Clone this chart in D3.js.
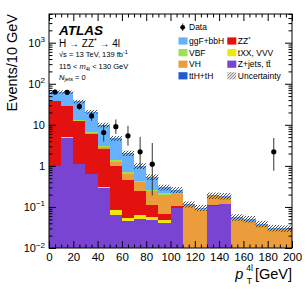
<!DOCTYPE html>
<html>
<head>
<meta charset="utf-8">
<script src="https://cdn.jsdelivr.net/npm/d3@7"></script>
<style>
  body { margin: 0; background: #fff; }
  svg { display: block; }
  text { font-family: "Liberation Sans", Arial, Helvetica, sans-serif; fill: #000; }
</style>
</head>
<body>
<div id="chart"></div>
<script>
// bins of pT(4l), 10 GeV wide
const binLow = [0, 10, 20, 30, 40, 50, 60, 70, 80, 90, 100, 110, 120, 130, 140, 150, 160, 170, 180, 190];

// expected events / 10 GeV per process
const zjets = [1.0, 4.9, 1.1, 0.63, 0.29, 0.064, 0.046, 0.05, 0.048, 0.04, 0.093, 0, 0, 0.107, 0.116, 0, 0, 0, 0, 0];
const txx   = [0.02, 0.03, 0.03, 0.02, 0.02, 0.021, 0.009, 0.013, 0.009, 0.008, 0, 0, 0, 0, 0, 0, 0, 0, 0, 0];
const zz    = [36, 24, 11.3, 5.4, 2.3, 0.915, 0.405, 0.182, 0.053, 0.021, 0.013, 0, 0, 0.006, 0, 0, 0, 0, 0, 0];
const vh    = [0.3, 0.3, 0.3, 0.2, 0.25, 0.25, 0.19, 0.155, 0.135, 0.131, 0.104, 0.103, 0.085, 0.067, 0.059, 0.05, 0.046, 0.035, 0.028, 0.027];
const tth   = [0.002, 0.002, 0.002, 0.001, 0.001, 0.001, 0.001, 0.001, 0, 0, 0, 0, 0, 0, 0, 0, 0, 0, 0, 0];
const vbf   = [0.3, 0.3, 0.3, 0.25, 0.22, 0.15, 0.04, 0.03, 0.015, 0.02, 0.01, 0.004, 0.003, 0.002, 0.002, 0.001, 0, 0, 0, 0];
const ggf   = [26, 33.5, 24, 14.3, 6.9, 3.3, 1.35, 0.57, 0.28, 0.08, 0.04, 0.009, 0.008, 0.008, 0.008, 0.005, 0.005, 0.004, 0.003, 0.003];

// relative systematic uncertainty of the total
const uncFrac = [0.09, 0.09, 0.1, 0.11, 0.13, 0.14, 0.15, 0.16, 0.16, 0.16, 0.17, 0.17, 0.17, 0.18, 0.18, 0.18, 0.18, 0.18, 0.18, 0.18];

// observed data (0 = empty bin) and error bar ends
const data   = [63, 62, 28, 16.5, 6.5, 9, 5.4, 2.2, 1.1, 0, 0, 0, 0, 0, 0, 0, 0, 0, 2.2, 0];
const dataHi = [72, 71, 34, 21, 10.3, 13.5, 9.5, 5.1, 3.6, 0, 0, 0, 0, 0, 0, 0, 0, 0, 4.8, 0];
const dataLo = [55, 54, 23, 12.5, 3.9, 6, 3.1, 0.9, 0.19, 0, 0, 0, 0, 0, 0, 0, 0, 0, 0.76, 0];

const xTicks = [0, 20, 40, 60, 80, 100, 120, 140, 160, 180, 200];
const yDecades = [0.01, 0.1, 1, 10, 100, 1000];

const keys = ["zjets", "txx", "zz", "vh", "tth", "vbf", "ggf"];
const colors = {
  ggf: "#66b2ff", zz: "#e3110f", vbf: "#9ee34f", txx: "#efe80e",
  vh: "#ec9d3b", zjets: "#7a44d2", tth: "#1f5bd0"
};

const W = 307, H = 295;
const pLeft = 49, pRight = 292, pTop = 14, pBottom = 248;

const svg = d3.select("#chart").append("svg")
  .attr("width", W).attr("height", H);

const x = d3.scaleLinear().domain([0, 200]).range([pLeft, pRight]);
const y = d3.scaleLog().domain([0.01, 5000]).range([pBottom, pTop]).clamp(true);
const floor = 1e-4;
const bw = x(10) - x(0);

// hatch pattern for the uncertainty band
const defs = svg.append("defs");
defs.append("pattern")
  .attr("id", "hatch")
  .attr("patternUnits", "userSpaceOnUse")
  .attr("width", 3).attr("height", 3)
  .append("path")
  .attr("d", "M-1,1 l2,-2 M0,3 l3,-3 M2,4 l2,-2")
  .attr("stroke", "#222").attr("stroke-width", 0.8);
defs.append("clipPath").attr("id", "clip")
  .append("rect").attr("x", pLeft).attr("y", pTop)
  .attr("width", pRight - pLeft).attr("height", pBottom - pTop);

const rows = binLow.map((b, i) => ({
  bin: b, zjets: zjets[i], txx: txx[i], zz: zz[i], vh: vh[i],
  tth: tth[i], vbf: vbf[i], ggf: ggf[i]
}));
const series = d3.stack().keys(keys)(rows);
const totals = rows.map(r => d3.sum(keys, k => r[k]));

const plot = svg.append("g").attr("clip-path", "url(#clip)");

// stacked histograms
plot.selectAll("g.layer")
  .data(series)
  .join("g")
  .attr("class", "layer")
  .attr("fill", d => colors[d.key])
  .selectAll("rect")
  .data(d => d.filter(s => s[1] - s[0] > 0))
  .join("rect")
  .attr("shape-rendering", "crispEdges")
  .attr("x", d => x(d.data.bin))
  .attr("width", bw)
  .attr("y", d => y(Math.max(d[1], floor)))
  .attr("height", d => y(Math.max(d[0], floor)) - y(Math.max(d[1], floor)));

// uncertainty band
plot.append("g")
  .selectAll("rect")
  .data(binLow)
  .join("rect")
  .attr("x", d => x(d))
  .attr("width", bw)
  .attr("y", (d, i) => y(totals[i] * (1 + uncFrac[i])))
  .attr("height", (d, i) => y(totals[i] * (1 - uncFrac[i])) - y(totals[i] * (1 + uncFrac[i])))
  .attr("fill", "url(#hatch)");

// data points with error bars
const pts = binLow.map((b, i) => ({ c: b + 5, v: data[i], hi: dataHi[i], lo: dataLo[i] }))
  .filter(d => d.v > 0);
svg.append("g")
  .selectAll("line")
  .data(pts)
  .join("line")
  .attr("x1", d => x(d.c)).attr("x2", d => x(d.c))
  .attr("y1", d => y(d.hi)).attr("y2", d => y(d.lo))
  .attr("stroke", "#333").attr("stroke-width", 1);
svg.append("g")
  .selectAll("circle")
  .data(pts)
  .join("circle")
  .attr("cx", d => x(d.c)).attr("cy", d => y(d.v))
  .attr("r", 2.6).attr("fill", "#000");

// axes: ticks inside on all four sides
const xMinor = d3.range(0, 201, 5).filter(v => v % 20 !== 0);
const yMinor = [];
yDecades.forEach(dec => { for (let m = 2; m <= 9; m++) if (dec * m <= 5000) yMinor.push(dec * m); });

function noDomain(g) { g.select(".domain").remove(); g.selectAll("line").attr("stroke", "#000"); }

svg.append("g").attr("transform", `translate(0,${pBottom})`)
  .call(d3.axisBottom(x).tickValues(xTicks).tickSize(-7).tickPadding(5).tickFormat(d3.format("d")))
  .call(noDomain)
  .call(g => g.selectAll("text").attr("font-size", 11.5).attr("font-family", "Liberation Sans, Arial, sans-serif"));
svg.append("g").attr("transform", `translate(0,${pBottom})`)
  .call(d3.axisBottom(x).tickValues(xMinor).tickSize(-3.5).tickFormat(""))
  .call(noDomain);
svg.append("g").attr("transform", `translate(0,${pTop})`)
  .call(d3.axisTop(x).tickValues(xTicks).tickSize(-7).tickFormat(""))
  .call(noDomain);
svg.append("g").attr("transform", `translate(0,${pTop})`)
  .call(d3.axisTop(x).tickValues(xMinor).tickSize(-3.5).tickFormat(""))
  .call(noDomain);

svg.append("g").attr("transform", `translate(${pLeft},0)`)
  .call(d3.axisLeft(y).tickValues(yDecades).tickSize(-7).tickFormat(""))
  .call(noDomain);
svg.append("g").attr("transform", `translate(${pLeft},0)`)
  .call(d3.axisLeft(y).tickValues(yMinor).tickSize(-3.5).tickFormat(""))
  .call(noDomain);
svg.append("g").attr("transform", `translate(${pRight},0)`)
  .call(d3.axisRight(y).tickValues(yDecades).tickSize(-7).tickFormat(""))
  .call(noDomain);
svg.append("g").attr("transform", `translate(${pRight},0)`)
  .call(d3.axisRight(y).tickValues(yMinor).tickSize(-3.5).tickFormat(""))
  .call(noDomain);

// y tick labels like 10^3
const yLab = svg.append("g").attr("font-size", 11).attr("text-anchor", "end");
yDecades.forEach(v => {
  const e = Math.round(Math.log10(v));
  const t = yLab.append("text").attr("x", 45).attr("y", y(v) + 4);
  if (e === 0) t.text("1");
  else if (e === 1) t.text("10");
  else {
    t.append("tspan").text("10");
    t.append("tspan").attr("dy", -4.5).attr("font-size", 8).text(e < 0 ? "\u2212" + (-e) : e);
  }
});

// frame
svg.append("rect")
  .attr("x", pLeft).attr("y", pTop)
  .attr("width", pRight - pLeft).attr("height", pBottom - pTop)
  .attr("fill", "none").attr("stroke", "#000").attr("stroke-width", 1);

// axis titles
svg.append("text")
  .attr("transform", `translate(17,${pTop}) rotate(-90)`)
  .attr("text-anchor", "end").attr("font-size", 14.5)
  .text("Events/10 GeV");

const xt = svg.append("g").attr("font-size", 14.5);
const gev = xt.append("text").attr("x", pRight).attr("y", 279).attr("text-anchor", "end").text("[GeV]");
const gevStart = pRight - gev.node().getComputedTextLength();
xt.append("text").attr("x", gevStart - 2).attr("y", 271).attr("font-size", 8.5).attr("text-anchor", "end").text("4l");
xt.append("text").attr("x", gevStart - 3).attr("y", 284).attr("font-size", 8.5).attr("text-anchor", "end").text("T");
xt.append("text").attr("x", gevStart - 11.5).attr("y", 279).attr("font-style", "italic").attr("text-anchor", "end").text("p");

// ATLAS labels
svg.append("text").attr("x", 59).attr("y", 35)
  .attr("font-size", 13.5).attr("font-weight", "bold").attr("font-style", "italic")
  .text("ATLAS");
const h = svg.append("text").attr("x", 59).attr("y", 46.5).attr("font-size", 10);
h.append("tspan").text("H \u2192 ZZ");
h.append("tspan").attr("dy", -3.5).attr("font-size", 7).text("*");
h.append("tspan").attr("dy", 3.5).text(" \u2192 4l");

const s = svg.append("text").attr("x", 59).attr("y", 57).attr("font-size", 7.5);
s.append("tspan").text("\u221As = 13 TeV, 139 fb");
s.append("tspan").attr("dy", -3).attr("font-size", 5.5).text("-1");

const m = svg.append("text").attr("x", 59).attr("y", 69).attr("font-size", 7.5);
m.append("tspan").text("115 < ");
m.append("tspan").attr("font-style", "italic").text("m");
m.append("tspan").attr("dy", 1.8).attr("font-size", 5.5).text("4l");
m.append("tspan").attr("dy", -1.8).text(" < 130 GeV");

const n = svg.append("text").attr("x", 59).attr("y", 79.5).attr("font-size", 7.5);
n.append("tspan").attr("font-style", "italic").text("N");
n.append("tspan").attr("dy", 1.8).attr("font-size", 5.5).text("jets");
n.append("tspan").attr("dy", -1.8).text(" = 0");

// legend
const leg = svg.append("g").attr("font-size", 8.5);
leg.append("line").attr("x1", 182.7).attr("x2", 182.7).attr("y1", 23.5).attr("y2", 31)
  .attr("stroke", "#333");
leg.append("circle").attr("cx", 182.7).attr("cy", 27.3).attr("r", 2.4);
leg.append("text").attr("x", 189).attr("y", 30.3).text("Data");

const legItems = [
  { key: "ggf", label: "ggF+bbH", col: 0, row: 0 },
  { key: "zz", label: "ZZ*", col: 1, row: 0 },
  { key: "vbf", label: "VBF", col: 0, row: 1 },
  { key: "txx", label: "tXX, VVV", col: 1, row: 1 },
  { key: "vh", label: "VH", col: 0, row: 2 },
  { key: "zjets", label: "Z+jets, tt\u0304", col: 1, row: 2 },
  { key: "tth", label: "ttH+tH", col: 0, row: 3 },
  { key: "unc", label: "Uncertainty", col: 1, row: 3 }
];
const rowY = [41, 52.6, 64.2, 75.8];
const colX = [178.5, 227.3];
legItems.forEach(it => {
  const g = leg.append("g").attr("transform", `translate(${colX[it.col]},${rowY[it.row]})`);
  g.append("rect").attr("x", 0).attr("y", -3.6).attr("width", 9).attr("height", 7.2)
    .attr("fill", it.key === "unc" ? "url(#hatch)" : colors[it.key]);
  const t = g.append("text").attr("x", 10.5).attr("y", 3.1);
  if (it.key === "zz") {
    t.append("tspan").text("ZZ");
    t.append("tspan").attr("dy", -3).attr("font-size", 6).text("*");
  } else {
    t.text(it.label);
  }
});
</script>
</body>
</html>
